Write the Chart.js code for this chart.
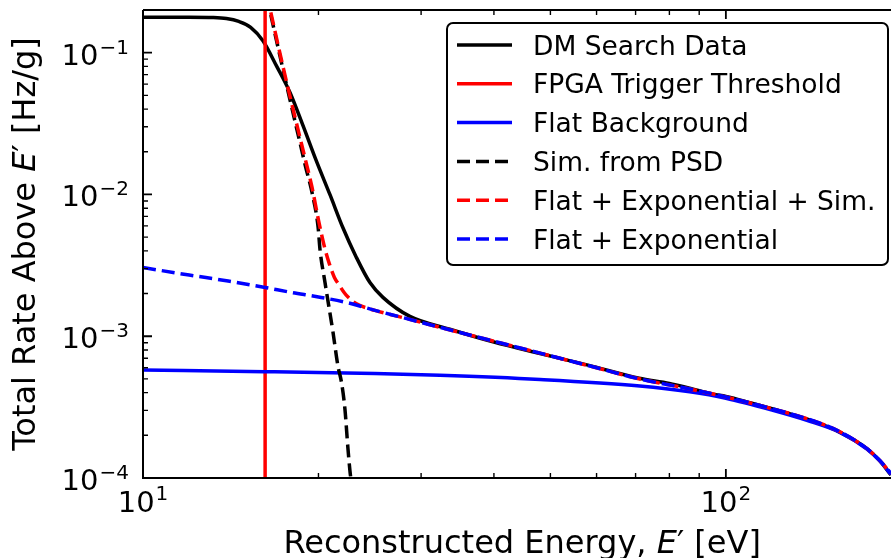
<!DOCTYPE html>
<html>
<head>
<meta charset="utf-8">
<script src="https://cdn.jsdelivr.net/npm/chart.js@4.4.0/dist/chart.umd.min.js"></script>
<style>
  html, body { margin: 0; padding: 0; background: #fff; }
</style>
</head>
<body>
<canvas id="canvasTaxa" width="891" height="558"></canvas>
<script>
// DM search data
let energiaDados = [10, 12, 13.2, 13.9, 14.6, 15.3, 16.06, 16.97, 17.87, 18.81, 19.81, 20.94, 22.03, 23.2, 24.51, 25.8, 28.7, 33.6, 40, 48, 58, 71, 80, 87, 95, 100, 110, 120, 138, 157, 175, 184, 192];
let taxaDados = [0.178, 0.178, 0.177, 0.174, 0.166, 0.151, 0.1214, 0.0797, 0.0524, 0.0307, 0.01746, 0.00992, 0.00582, 0.00364, 0.00239, 0.00188, 0.00138, 0.00112, 0.00091, 0.000755, 0.000625, 0.000505, 0.000465, 0.000428, 0.00039, 0.000376, 0.00034, 0.000308, 0.00026, 0.00021, 0.00016, 0.000131, 0.000105];

// FPGA trigger threshold
let limiarEnergia = [16.2, 16.2];
let limiarTaxa = [0.0001, 0.2];

// flat background
let planoEnergia = [10, 16.2, 25, 32.3, 48, 71.2, 86.7, 100, 120.4, 137.7, 156.9, 174.6, 183.7, 192];
let planoTaxa = [0.000577, 0.000562, 0.000545, 0.00053, 0.000495, 0.000445, 0.000405, 0.000365, 0.0003, 0.000255, 0.00021, 0.00016, 0.000132, 0.000106];

// sim. from PSD
let simEnergia = [16.3, 17.4, 18.6, 19.0, 19.5, 19.97, 20.12, 20.52, 21.18, 21.6, 21.9, 22.2, 22.47, 22.65, 22.8];
let simTaxa = [0.25, 0.075, 0.023, 0.0158, 0.0103, 0.0059, 0.0041, 0.0024, 0.00107, 0.000616, 0.000475, 0.000309, 0.000162, 0.000112, 0.00009];

// flat + exponential + sim
let totalEnergia = [16.3, 17.4, 18.6, 19.0, 19.5, 20.0, 20.5, 20.9, 21.3, 21.7, 22.1, 22.5, 23.2, 25, 28, 32.3, 39.4, 48, 58.5, 71.2, 86.7, 100, 120.4, 137.7, 156.9, 174.6, 183.7, 192];
let totalTaxa = [0.26, 0.0785, 0.025, 0.0175, 0.0112, 0.0066, 0.0042, 0.0032, 0.0026, 0.0023, 0.00205, 0.00188, 0.0017, 0.001522, 0.001349, 0.001156, 0.000937, 0.00076, 0.000616, 0.000499, 0.000425, 0.000373, 0.000307, 0.000262, 0.000212, 0.000161, 0.000133, 0.0001075];

// flat + exponential
let expEnergia = [10, 12, 14, 16.2, 18, 20, 22.5, 25, 28, 32.3, 39.4, 48, 58.5, 71.2, 86.7, 100, 120.4, 137.7, 156.9, 174.6, 183.7, 192];
let expTaxa = [0.003049, 0.002701, 0.002452, 0.002207, 0.002035, 0.001893, 0.001718, 0.001522, 0.001349, 0.001156, 0.000937, 0.00076, 0.000616, 0.000499, 0.000425, 0.000373, 0.000307, 0.000262, 0.000212, 0.000161, 0.000133, 0.0001075];

// ticks
let xTicksMaiores = [10, 100];
let xTicksExpoentes = ['1', '2'];
let xTicksMenores = [20, 30, 40, 50, 60, 70, 80, 90];
let yTicksMaiores = [0.0001, 0.001, 0.01, 0.1];
let yTicksExpoentes = ['\u22124', '\u22123', '\u22122', '\u22121'];
let yTicksMenores = [];
for (let d of [0.0001, 0.001, 0.01, 0.1]) {
    for (let m = 2; m <= 9; m++) {
        if (d * m < 0.2) yTicksMenores.push(d * m);
    }
}

const FONTE = '"DejaVu Sans", sans-serif';

function pontos(xs, ys) {
    return xs.map((x, i) => ({ x: x, y: ys[i] }));
}

function linha(label, xs, ys, cor, tracejado, ordem) {
    return {
        label: label,
        data: pontos(xs, ys),
        borderColor: cor,
        backgroundColor: cor,
        borderWidth: 3.5,
        borderDash: tracejado ? [13, 6] : [],
        borderCapStyle: 'butt',
        cubicInterpolationMode: 'monotone',
        pointRadius: 0,
        fill: false,
        clip: 0,
        order: ordem
    };
}

function desenhaPotencia(ctx, xCentro, xDireita, base, exp, tamBase, tamExp, yBase, ySup) {
    ctx.font = tamBase + 'px ' + FONTE;
    let wb = ctx.measureText(base).width;
    ctx.font = tamExp + 'px ' + FONTE;
    let we = ctx.measureText(exp).width;
    let x0 = xDireita !== null ? xDireita - wb - we - 1 : xCentro - (wb + we + 1) / 2;
    ctx.textAlign = 'left';
    ctx.textBaseline = 'alphabetic';
    ctx.font = tamBase + 'px ' + FONTE;
    ctx.fillText(base, x0, yBase);
    ctx.font = tamExp + 'px ' + FONTE;
    ctx.fillText(exp, x0 + wb + 1, ySup);
}

const pluginEixos = {
    id: 'pluginEixos',
    afterDraw(chart) {
        const ctx = chart.ctx;
        const ca = chart.chartArea;
        const sx = chart.scales.x;
        const sy = chart.scales.y;
        ctx.save();
        ctx.fillStyle = '#000';
        ctx.strokeStyle = '#000';

        // spines (right one is cropped in the original)
        ctx.lineWidth = 2;
        ctx.beginPath();
        ctx.moveTo(ca.left, ca.top);
        ctx.lineTo(ca.left, ca.bottom);
        ctx.lineTo(chart.width, ca.bottom);
        ctx.moveTo(ca.left, ca.top);
        ctx.lineTo(chart.width, ca.top);
        ctx.stroke();

        // inward ticks
        ctx.lineWidth = 1.8;
        ctx.beginPath();
        xTicksMaiores.forEach(v => {
            let px = sx.getPixelForValue(v);
            ctx.moveTo(px, ca.bottom); ctx.lineTo(px, ca.bottom - 9);
            ctx.moveTo(px, ca.top); ctx.lineTo(px, ca.top + 9);
        });
        yTicksMaiores.forEach(v => {
            let py = sy.getPixelForValue(v);
            ctx.moveTo(ca.left, py); ctx.lineTo(ca.left + 9, py);
        });
        ctx.stroke();
        ctx.lineWidth = 1.4;
        ctx.beginPath();
        xTicksMenores.forEach(v => {
            let px = sx.getPixelForValue(v);
            ctx.moveTo(px, ca.bottom); ctx.lineTo(px, ca.bottom - 5);
            ctx.moveTo(px, ca.top); ctx.lineTo(px, ca.top + 5);
        });
        yTicksMenores.forEach(v => {
            let py = sy.getPixelForValue(v);
            ctx.moveTo(ca.left, py); ctx.lineTo(ca.left + 5, py);
        });
        ctx.stroke();

        // tick labels
        xTicksMaiores.forEach((v, i) => {
            let px = sx.getPixelForValue(v);
            desenhaPotencia(ctx, px, null, '10', xTicksExpoentes[i], 29, 20, ca.bottom + 34, ca.bottom + 22);
        });
        yTicksMaiores.forEach((v, i) => {
            let py = sy.getPixelForValue(v);
            desenhaPotencia(ctx, null, ca.left - 14, '10', yTicksExpoentes[i], 29, 20, py + 12, py + 1);
        });

        // axis titles
        let partesX = [['Reconstructed Energy, ', false], ['E', true], ['\u2032 [eV]', false]];
        let partesY = [['Total Rate Above ', false], ['E', true], ['\u2032 [Hz/g]', false]];
        function larguraPartes(partes) {
            let w = 0;
            partes.forEach(p => {
                ctx.font = (p[1] ? 'oblique ' : '') + '32px ' + FONTE;
                w += ctx.measureText(p[0]).width;
            });
            return w;
        }
        function desenhaPartes(partes, x0, y0) {
            let x = x0;
            partes.forEach(p => {
                ctx.font = (p[1] ? 'oblique ' : '') + '32px ' + FONTE;
                ctx.fillText(p[0], x, y0);
                x += ctx.measureText(p[0]).width;
            });
        }
        ctx.textAlign = 'left';
        ctx.textBaseline = 'alphabetic';
        let centroX = (ca.left + sx.getPixelForValue(200)) / 2;
        let wx = larguraPartes(partesX);
        desenhaPartes(partesX, centroX - wx / 2, 553);

        ctx.save();
        ctx.translate(35, (ca.top + ca.bottom) / 2);
        ctx.rotate(-Math.PI / 2);
        let wy = larguraPartes(partesY);
        desenhaPartes(partesY, -wy / 2, 0);
        ctx.restore();

        // legend
        const lx = 447, ly = 23, lw = 441, lh = 242;
        ctx.beginPath();
        ctx.roundRect(lx, ly, lw, lh, 6);
        ctx.fillStyle = '#fff';
        ctx.fill();
        ctx.lineWidth = 2;
        ctx.strokeStyle = '#000';
        ctx.stroke();
        ctx.font = '26.5px ' + FONTE;
        chart.data.datasets.forEach((ds, i) => {
            let ry = 45 + i * 38.8;
            ctx.beginPath();
            ctx.strokeStyle = ds.borderColor;
            ctx.lineWidth = ds.borderWidth;
            ctx.lineCap = 'butt';
            ctx.setLineDash(ds.borderDash);
            ctx.moveTo(457, ry);
            ctx.lineTo(512, ry);
            ctx.stroke();
            ctx.setLineDash([]);
            ctx.fillStyle = '#000';
            ctx.fillText(ds.label, 533, ry + 9.5);
        });
        ctx.restore();
    }
};

let canvasTaxa = document.getElementById('canvasTaxa').getContext('2d');
let grafTaxa = new Chart(canvasTaxa, {
    type: 'line',
    data: {
        datasets: [
            linha('DM Search Data', energiaDados, taxaDados, '#000000', false, 6),
            linha('FPGA Trigger Threshold', limiarEnergia, limiarTaxa, '#ff0000', false, 5),
            linha('Flat Background', planoEnergia, planoTaxa, '#0000ff', false, 4),
            linha('Sim. from PSD', simEnergia, simTaxa, '#000000', true, 3),
            linha('Flat + Exponential + Sim.', totalEnergia, totalTaxa, '#ff0000', true, 2),
            linha('Flat + Exponential', expEnergia, expTaxa, '#0000ff', true, 1)
        ]
    },
    options: {
        responsive: false,
        animation: false,
        layout: { padding: { top: 10, left: 0, right: 0, bottom: 0 } },
        plugins: {
            legend: { display: false },
            tooltip: { enabled: false }
        },
        scales: {
            x: {
                type: 'logarithmic',
                min: 10,
                max: 192,
                grid: { display: false },
                border: { display: false },
                ticks: { display: false },
                afterFit: s => { s.height = 80; }
            },
            y: {
                type: 'logarithmic',
                min: 0.0001,
                max: 0.2,
                grid: { display: false },
                border: { display: false },
                ticks: { display: false },
                afterFit: s => { s.width = 143; }
            }
        }
    },
    plugins: [pluginEixos]
});
</script>
</body>
</html>
